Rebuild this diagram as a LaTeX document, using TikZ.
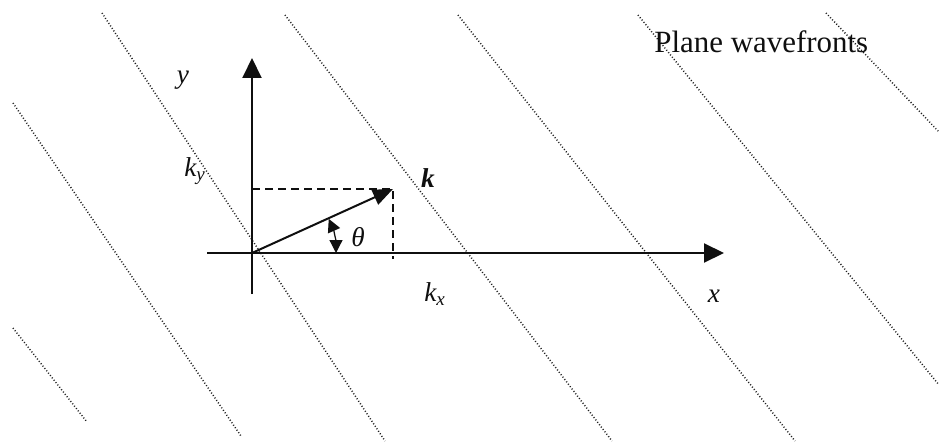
\documentclass[tikz,border=0pt]{standalone}
\usepackage{fontspec}
\setmainfont{Liberation Serif}
\usetikzlibrary{arrows.meta,positioning,calc}
\definecolor{tinta}{RGB}{15,15,15}
\definecolor{punto}{RGB}{30,30,30}

\begin{document}
\begin{tikzpicture}[x=0.2mm,y=-0.2mm,
eje/.style={-{Triangle[length=4mm,width=3.8mm]},line width=0.4mm,draw=tinta},
vec/.style={-{Triangle[length=4mm,width=3.2mm]},line width=0.4mm,draw=tinta},
guia/.style={dash pattern=on 1.6mm off 1mm,line width=0.3mm,draw=tinta},
frente/.style={line width=0.3mm,dash pattern=on 0.2mm off 0.4mm,draw=punto},
lbl/.style={font=\fontsize{15.5}{18}\selectfont\itshape,inner sep=0pt,text=tinta}
]
\useasboundingbox (0,0) rectangle (940,441);
% plane wavefronts
\foreach \xa/\ya/\xb/\yb in {13/103/241/436,102/13/385/441,13/328/87/422,285/15/612/441,458/15/795/441,638/15/939/385,826/13/939/132}
  \draw[frente] (\xa,\ya) -- (\xb,\yb);
% axes
\coordinate (O) at (252,253);
\coordinate (xini) at (207,253);
\coordinate (xfin) at (724,253);
\coordinate (yini) at (252,294);
\coordinate (yfin) at (252,58);
\coordinate (K) at (393,189);
\draw[eje] (xini) -- (xfin);
\draw[eje] (yini) -- (yfin);
\draw[guia] (O |- K) -- (K) -- ($(K |- O)+(0,6)$);
\draw[vec] (O) -- (K);
\draw[{Triangle[length=2.6mm,width=2.6mm]}-{Triangle[length=2.6mm,width=2.6mm]},line width=0.25mm,draw=tinta]
  ($(O)+(0:84)$) arc[start angle=0,end angle=-24,radius=84];
% labels
\node[lbl] (ly) at (183,80) {y};
\node[lbl] (lky) at (195,171) {k\textsubscript{y}};
\node[lbl,font=\fontsize{15.5}{18}\selectfont\bfseries\itshape] (lk) at (428,178) {k};
\node[lbl] (lth) at (358,237) {θ};
\node[lbl] (lkx) at (435,294) {k\textsubscript{x}};
\node[lbl] (lx) at (714,296) {x};
\node[font=\fontsize{17.6}{20}\selectfont,anchor=base west,inner sep=0pt,text=tinta] (titulo) at (654,53) {Plane wavefronts};
\end{tikzpicture}
\end{document}
